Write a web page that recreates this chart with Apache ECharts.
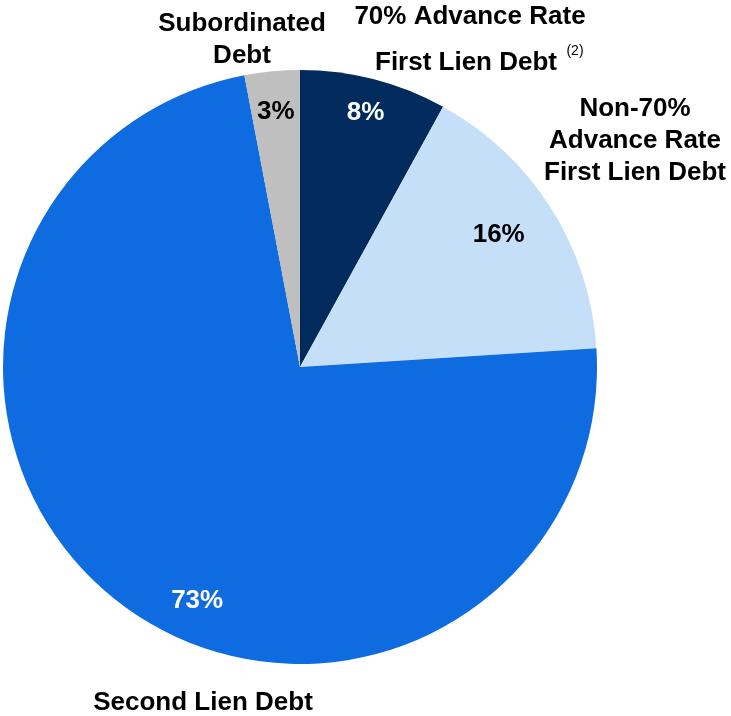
<!DOCTYPE html>
<html>
<head>
<meta charset="utf-8">
<script src="https://cdn.jsdelivr.net/npm/echarts@6/dist/echarts.min.js"></script>
<style>
html,body{margin:0;padding:0;background:#fff;}
#chart{width:731px;height:716px;}
</style>
</head>
<body>
<div id="chart"></div>
<script>
var categories = ['70% Advance Rate First Lien Debt', 'Non-70% Advance Rate First Lien Debt', 'Second Lien Debt', 'Subordinated Debt'];
var values = [8, 16, 73, 3];
var colors = ['#002B5C', '#C6DFF8', '#0F6BE0', '#BFBFBF'];
var labelColors = ['#ffffff', '#000000', '#ffffff', '#000000'];
var labelOffsets = [[-1, 5], [-27, 11], [61, 23], [1, 11]];

var FONT = 'Liberation Sans, Arial, sans-serif';
var cx = 300, cy = 367, R = 297;
var FS = 26, LH = 32;

var pieData = categories.map(function (c, i) {
  return { name: c, value: values[i], itemStyle: { color: colors[i] } };
});
var labelData = categories.map(function (c, i) {
  return {
    name: c, value: values[i],
    label: { color: labelColors[i], offset: labelOffsets[i] }
  };
});

// y = visual centre of first line
function txt(x, y, s, extra) {
  var st = Object.assign({
    fontFamily: FONT, fontWeight: 'bold', fontSize: FS, fill: '#000',
    textAlign: 'center', lineHeight: LH, text: s
  }, extra || {});
  var lh = st.lineHeight;
  return { type: 'text', x: x, y: y + 3 - lh / 2, style: st };
}

var chart = echarts.init(document.getElementById('chart'), null, { renderer: 'canvas' });
chart.setOption({
  animation: false,
  series: [
    {
      type: 'pie',
      center: [cx, cy],
      radius: [0, R],
      startAngle: 90,
      clockwise: true,
      silent: true,
      label: { show: false },
      labelLine: { show: false },
      itemStyle: { borderWidth: 0 },
      data: pieData
    },
    {
      type: 'pie',
      center: [cx, cy],
      radius: [R * 0.78, R],
      startAngle: 90,
      clockwise: true,
      silent: true,
      itemStyle: { color: 'rgba(0,0,0,0)', borderWidth: 0 },
      label: {
        show: true,
        position: 'inside',
        formatter: '{c}%',
        fontFamily: FONT,
        fontWeight: 'bold',
        fontSize: FS
      },
      labelLine: { show: false },
      data: labelData
    }
  ],
  graphic: [
    txt(242, 21, 'Subordinated\nDebt'),
    txt(470, 14, '70% Advance Rate'),
    txt(466, 60, 'First Lien Debt'),
    txt(575, 48, '(2)', { fontWeight: 'normal', fontSize: 14, lineHeight: 16 }),
    txt(635, 106, 'Non-70%\nAdvance Rate\nFirst Lien Debt'),
    txt(203, 700, 'Second Lien Debt')
  ]
});
</script>
</body>
</html>
